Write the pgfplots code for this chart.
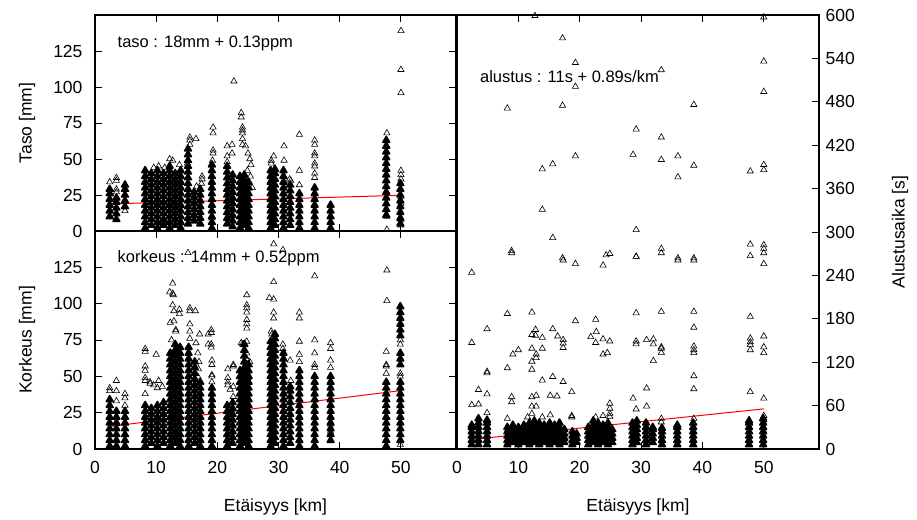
\documentclass[border=0pt]{standalone}
\usepackage{fontspec}
\setmainfont{Liberation Sans}
\usepackage{pgfplots}
\pgfplotsset{compat=1.18}

\newcommand{\fs}{\fontsize{17.5}{21}\selectfont}
\newcommand{\fa}{\fontsize{16.5}{20}\selectfont}

\pgfplotsset{
  myax/.style={
    scale only axis, xmin=0, xmax=59,
    axis line style={line width=2.4pt},
    tick style={line width=0.9pt, black},
    major tick length=7pt, tick align=inside,
    xtick={0,10,...,50},
    every tick label/.append style={font=\fs},
    label style={font=\fs},
    /pgf/number format/assume math mode=true,
    xticklabel style={yshift=-9pt},
  },
  dense/.style={only marks, mark=triangle*, mark size=3.9pt,
    mark options={fill=black, draw=black, line width=1.6pt, line join=round}},
  sparse/.style={only marks, mark=triangle, mark size=3.6pt,
    mark options={draw=black, line width=0.6pt}},
  fit/.style={red, line width=1pt, no marks},
}

\begin{document}
\begin{tikzpicture}
\useasboundingbox (0,0) rectangle (917pt,519pt);

% --- Taso ---
\begin{axis}[myax, at={(95pt,288pt)}, anchor=south west,
  width=361pt, height=216pt, ymin=0, ymax=150,
  ytick={0,25,...,125}, xticklabels={},
  yticklabel style={xshift=-9pt},
  ylabel={Taso [mm]},
  ylabel style={at={(axis description cs:-0.188,0.5)}, anchor=center}]
\addplot[dense] coordinates {
(2.4,10)(2.4,14)(2.4,18)(2.4,22)(2.4,26)(2.4,29)
(3.5,8)(3.5,12)(3.5,16)(3.5,20)(3.5,23)
(4.9,17)(4.9,21)(4.9,25)(4.9,29)(4.9,32)
(8.2,2)(8.2,6)(8.2,10)(8.2,14)(8.2,18)(8.2,22)(8.2,26)(8.2,30)(8.2,34)(8.2,38)(8.2,42)
(9.2,4)(9.2,8)(9.2,12)(9.2,16)(9.2,20)(9.2,24)(9.2,28)(9.2,32)(9.2,36)(9.2,40)
(10.2,2)(10.2,6)(10.2,10)(10.2,14)(10.2,18)(10.2,22)(10.2,26)(10.2,30)(10.2,34)(10.2,38)(10.2,42)
(11.2,4)(11.2,8)(11.2,12)(11.2,16)(11.2,20)(11.2,24)(11.2,28)(11.2,32)(11.2,36)(11.2,40)
(12.2,2)(12.2,6)(12.2,10)(12.2,14)(12.2,18)(12.2,22)(12.2,26)(12.2,30)(12.2,34)(12.2,38)(12.2,42)(12.2,45)
(13.1,4)(13.1,8)(13.1,12)(13.1,16)(13.1,20)(13.1,24)(13.1,28)(13.1,32)(13.1,36)(13.1,40)
(14.0,2)(14.0,6)(14.0,10)(14.0,14)(14.0,18)(14.0,22)(14.0,26)(14.0,30)(14.0,34)(14.0,38)(14.0,42)
(15.2,5)(15.2,9)(15.2,13)(15.2,17)(15.2,21)(15.2,25)(15.2,29)(15.2,33)(15.2,37)(15.2,41)(15.2,45)(15.2,49)(15.2,53)(15.2,57)
(16.2,7)(16.2,11)(16.2,15)(16.2,19)(16.2,23)(16.2,27)
(17.2,5)(17.2,9)(17.2,13)(17.2,17)(17.2,21)(17.2,25)(17.2,29)
(19.1,2)(19.1,6)(19.1,10)(19.1,14)(19.1,18)(19.1,22)(19.1,26)(19.1,30)(19.1,34)(19.1,38)(19.1,42)(19.1,46)
(21.6,5)(21.6,9)(21.6,13)(21.6,17)(21.6,21)(21.6,25)(21.6,29)(21.6,33)(21.6,37)(21.6,41)(21.6,45)
(22.5,3)(22.5,7)(22.5,11)(22.5,15)(22.5,19)(22.5,23)(22.5,27)(22.5,31)(22.5,35)(22.5,39)
(23.7,2)(23.7,6)(23.7,10)(23.7,14)(23.7,18)(23.7,22)(23.7,26)(23.7,30)(23.7,34)(23.7,38)
(24.4,4)(24.4,8)(24.4,12)(24.4,16)(24.4,20)(24.4,24)(24.4,28)(24.4,32)(24.4,36)(24.4,39)
(25.1,2)(25.1,6)(25.1,10)(25.1,14)(25.1,18)(25.1,22)(25.1,26)(25.1,30)(25.1,34)
(28.7,2)(28.7,6)(28.7,10)(28.7,14)(28.7,18)(28.7,22)(28.7,26)(28.7,30)(28.7,34)(28.7,38)(28.7,42)
(29.4,4)(29.4,8)(29.4,12)(29.4,16)(29.4,20)(29.4,24)(29.4,28)(29.4,32)(29.4,36)(29.4,40)(29.4,43)
(30.8,2)(30.8,6)(30.8,10)(30.8,14)(30.8,18)(30.8,22)(30.8,26)(30.8,30)(30.8,34)(30.8,38)(30.8,42)
(31.9,4)(31.9,8)(31.9,12)(31.9,16)(31.9,20)(31.9,24)(31.9,28)(31.9,32)
(33.4,2)(33.4,6)(33.4,10)(33.4,14)(33.4,18)(33.4,22)(33.4,26)
(35.9,2)(35.9,6)(35.9,10)(35.9,14)(35.9,18)(35.9,22)(35.9,26)(35.9,30)
(38.5,2)(38.5,6)(38.5,10)(38.5,14)(38.5,18)
(47.6,11)(47.6,15)(47.6,19)(47.6,23)(47.6,27)(47.6,31)(47.6,35)(47.6,39)(47.6,43)(47.6,47)(47.6,51)(47.6,55)(47.6,59)(47.6,63)
(49.9,5)(49.9,9)(49.9,13)(49.9,17)(49.9,21)(49.9,25)(49.9,29)(49.9,33)
};
\addplot[sparse] coordinates {
(2.4,34)(3.5,37)(3.5,35)(3.5,29)(3.5,27)(4.9,14)
(12.2,50)(11.4,44)(11.2,7)(11.1,5)(12.7,49)(13.8,46)(9.6,44)(10.4,45)
(15.5,65)(15.5,63)(16.5,64)(15.5,60)(15.1,47)
(17.5,38)(17.5,36)(17.4,33)(16.6,31)
(19.3,72)(19.3,68)(19.3,56)(19.3,54)(19.2,49)(19.1,9)
(21.6,59)(22.4,60)(22.4,54)(21.6,52)(21.6,48)(22.6,19)(22.7,104)
(23.9,82)(23.9,79)(24.1,72)(24.1,70)(24.1,68)(24.1,64)(24.1,60)(24.6,59)(25.0,54)(25.3,50)(25.5,46)(24.9,42)(25.4,38)(25.7,30)
(28.8,49)(29.2,52)(28.8,47)(30.9,59)(30.9,49)(31.8,36)(32.0,35)
(33.4,67)(33.4,42)(33.4,32)
(35.9,63)(35.9,60)(35.9,54)(35.9,52)(35.9,47)(35.9,45)(35.9,40)(35.9,37)
(47.7,68)(47.7,10)(47.7,1)
(50.0,139)(50.0,112)(50.0,96)(50.0,42)(50.0,39)(50.0,36)(50.0,24)(50.0,19)(50.0,8)(50.0,4)
};
\addplot[fit] coordinates {(2.4,18.8) (50,24.8)};
\node[anchor=west, font=\fa] at (axis description cs:0.053,0.87) {taso : 18mm + 0.13ppm};
\end{axis}

% --- Korkeus ---
\begin{axis}[myax, at={(95pt,70pt)}, anchor=south west,
  width=361pt, height=218pt, ymin=0, ymax=150,
  ytick={0,25,...,125},
  yticklabel style={xshift=-9pt},
  ylabel={Korkeus [mm]},
  ylabel style={at={(axis description cs:-0.188,0.5)}, anchor=center},
  xlabel={Etäisyys [km]},
  xlabel style={at={(axis description cs:0.5,0)}, anchor=center, yshift=-58pt}]
\addplot[dense] coordinates {
(2.4,2)(2.4,6)(2.4,10)(2.4,14)(2.4,18)(2.4,22)(2.4,26)(2.4,30)(2.4,34)
(3.5,2)(3.5,6)(3.5,10)(3.5,14)(3.5,18)(3.5,22)(3.5,26)
(4.9,2)(4.9,6)(4.9,10)(4.9,14)(4.9,18)(4.9,22)(4.9,26)
(8.2,2)(8.2,6)(8.2,10)(8.2,14)(8.2,18)(8.2,22)(8.2,26)(8.2,30)
(9.2,4)(9.2,8)(9.2,12)(9.2,16)(9.2,20)(9.2,24)(9.2,28)
(10.2,2)(10.2,6)(10.2,10)(10.2,14)(10.2,18)(10.2,22)(10.2,26)(10.2,30)
(11.2,4)(11.2,8)(11.2,12)(11.2,16)(11.2,20)(11.2,24)(11.2,28)(11.2,32)
(12.3,2)(12.3,6)(12.3,10)(12.3,14)(12.3,18)(12.3,22)(12.3,26)(12.3,30)(12.3,34)(12.3,38)(12.3,42)(12.3,46)(12.3,50)(12.3,54)(12.3,58)(12.3,62)(12.3,66)
(13.1,4)(13.1,8)(13.1,12)(13.1,16)(13.1,20)(13.1,24)(13.1,28)(13.1,32)(13.1,36)(13.1,40)(13.1,44)(13.1,48)(13.1,52)(13.1,56)(13.1,60)(13.1,64)(13.1,68)(13.1,72)
(13.9,2)(13.9,6)(13.9,10)(13.9,14)(13.9,18)(13.9,22)(13.9,26)(13.9,30)(13.9,34)(13.9,38)(13.9,42)(13.9,46)(13.9,50)(13.9,54)(13.9,58)(13.9,62)(13.9,66)(13.9,70)
(15.3,2)(15.3,6)(15.3,10)(15.3,14)(15.3,18)(15.3,22)(15.3,26)(15.3,30)(15.3,34)(15.3,38)(15.3,42)(15.3,46)(15.3,50)(15.3,54)(15.3,58)(15.3,62)(15.3,66)(15.3,70)
(16.3,4)(16.3,8)(16.3,12)(16.3,16)(16.3,20)(16.3,24)(16.3,28)(16.3,32)(16.3,36)(16.3,40)(16.3,44)(16.3,48)(16.3,52)(16.3,56)(16.3,60)
(17.2,2)(17.2,6)(17.2,10)(17.2,14)(17.2,18)(17.2,22)(17.2,26)(17.2,30)(17.2,34)(17.2,38)(17.2,42)(17.2,46)
(19.1,2)(19.1,6)(19.1,10)(19.1,14)(19.1,18)(19.1,22)(19.1,26)(19.1,30)(19.1,34)(19.1,38)(19.1,42)
(21.6,2)(21.6,6)(21.6,10)(21.6,14)(21.6,18)(21.6,22)(21.6,26)(21.6,30)
(22.5,4)(22.5,8)(22.5,12)(22.5,16)(22.5,20)(22.5,24)(22.5,28)(22.5,32)
(23.7,2)(23.7,6)(23.7,10)(23.7,14)(23.7,18)(23.7,22)(23.7,26)(23.7,30)(23.7,34)(23.7,38)(23.7,42)(23.7,46)(23.7,50)(23.7,54)
(24.4,4)(24.4,8)(24.4,12)(24.4,16)(24.4,20)(24.4,24)(24.4,28)(24.4,32)(24.4,36)(24.4,40)(24.4,44)(24.4,48)(24.4,52)(24.4,56)(24.4,60)(24.4,64)(24.4,68)(24.4,72)
(25.1,2)(25.1,6)(25.1,10)(25.1,14)(25.1,18)(25.1,22)(25.1,26)(25.1,30)(25.1,34)(25.1,38)(25.1,42)(25.1,46)(25.1,50)(25.1,54)(25.1,58)
(28.7,2)(28.7,6)(28.7,10)(28.7,14)(28.7,18)(28.7,22)(28.7,26)(28.7,30)(28.7,34)(28.7,38)(28.7,42)(28.7,46)(28.7,50)(28.7,54)(28.7,58)(28.7,62)(28.7,66)(28.7,70)(28.7,74)
(29.4,4)(29.4,8)(29.4,12)(29.4,16)(29.4,20)(29.4,24)(29.4,28)(29.4,32)(29.4,36)(29.4,40)(29.4,44)(29.4,48)(29.4,52)(29.4,56)(29.4,60)(29.4,64)(29.4,68)(29.4,72)(29.4,76)(29.4,79)
(30.8,2)(30.8,6)(30.8,10)(30.8,14)(30.8,18)(30.8,22)(30.8,26)(30.8,30)(30.8,34)(30.8,38)(30.8,42)(30.8,46)(30.8,50)(30.8,54)(30.8,58)(30.8,62)(30.8,66)
(31.9,4)(31.9,8)(31.9,12)(31.9,16)(31.9,20)(31.9,24)(31.9,28)(31.9,32)(31.9,36)(31.9,40)(31.9,43)
(33.4,2)(33.4,6)(33.4,10)(33.4,14)(33.4,18)(33.4,22)(33.4,26)(33.4,30)(33.4,34)(33.4,38)(33.4,42)(33.4,46)(33.4,50)(33.4,54)
(35.9,2)(35.9,6)(35.9,10)(35.9,14)(35.9,18)(35.9,22)(35.9,26)(35.9,30)(35.9,34)(35.9,38)(35.9,42)(35.9,46)(35.9,50)
(38.5,6)(38.5,10)(38.5,14)(38.5,18)(38.5,22)(38.5,26)(38.5,30)(38.5,34)(38.5,38)(38.5,42)(38.5,46)(38.5,50)
(47.6,2)(47.6,6)(47.6,10)(47.6,14)(47.6,18)(47.6,22)(47.6,26)(47.6,30)(47.6,34)(47.6,38)(47.6,42)(47.6,46)
(49.9,6)(49.9,10)(49.9,14)(49.9,18)(49.9,22)(49.9,26)(49.9,30)(49.9,34)(49.9,38)(49.9,42)(49.9,46)
(49.9,58)(49.9,62)(49.9,66)(49.9,78)(49.9,82)(49.9,86)(49.9,90)(49.9,94)(49.9,98)
};
\addplot[sparse] coordinates {
(2.4,40)(2.4,42)(3.5,47)(3.5,40)(3.5,33)(4.9,38)(4.9,35)(4.9,30)
(8.2,69)(8.2,67)(8.2,57)(8.2,54)(8.2,49)(8.2,47)(8.2,38)(9.0,46)(9.0,45)(9.6,44)(10.0,65)(10.4,47)(10.2,42)(11.0,43)
(12.2,108)(12.7,114)(12.7,107)(12.8,106)(12.7,99)(12.9,95)(12.9,88)(12.3,87)(13.8,96)(13.8,93)(13.2,82)(13.2,81)(12.5,75)
(15.2,135)(15.5,97)(15.5,95)(15.5,86)(15.5,81)(15.5,76)(16.4,95)(17.1,79)(16.5,73)(16.8,66)(17.0,60)(16.9,55)(16.8,50)
(19.0,82)(19.0,80)(18.5,79)(18.5,72)(19.0,72)(19.0,70)(19.1,61)(19.1,58)(19.1,51)(19.1,50)(19.1,46)
(21.7,55)(21.7,49)(21.7,46)(21.7,44)(22.6,43)(22.6,58)(22.6,57)(22.1,41)(22.6,36)
(24.8,106)(24.8,99)(24.8,97)(24.8,94)(24.8,89)(24.8,86)(24.8,83)(24.8,74)(24.8,66)(24.8,62)(24.8,53)(25.0,49)(23.9,73)(24.1,72)(25.3,60)
(28.5,104)(29.2,141)(29.2,115)(29.2,103)(29.2,94)(29.2,90)(28.8,81)(28.9,79)
(30.7,137)(30.7,72)(30.7,69)(31.9,61)(32.0,47)
(33.4,94)(33.4,90)(33.4,74)(33.4,65)(33.4,60)
(35.9,119)(35.9,75)(35.9,66)(35.9,58)(35.9,56)
(38.5,73)(38.5,69)(38.5,61)(38.5,56)(38.5,17)(38.5,12)
(47.7,123)(47.7,102)(47.6,67)(47.6,58)(47.6,57)(47.6,52)
(49.9,72)(49.9,75)(49.9,52)(49.9,50)(49.9,3)
};
\addplot[fit] coordinates {(2.4,15.5) (50,40.2)};
\node[anchor=west, font=\fa] at (axis description cs:0.053,0.876) {korkeus : 14mm + 0.52ppm};
\end{axis}

% --- Alustusaika ---
\begin{axis}[myax, at={(457pt,70pt)}, anchor=south west,
  width=362pt, height=434pt, ymin=0, ymax=600,
  ytick={0,60,...,600}, ytick pos=right, yticklabel pos=right,
  yticklabel style={xshift=3pt},
  ylabel={Alustusaika [s]},
  ylabel style={at={(axis description cs:1.224,0.5)}, anchor=center, rotate=0},
  xlabel={Etäisyys [km]},
  xlabel style={at={(axis description cs:0.5,0)}, anchor=center, yshift=-58pt}]
\addplot[dense] coordinates {
(2.4,6)(2.4,12)(2.4,18)(2.4,24)(2.4,30)(2.4,33)
(3.5,6)(3.5,12)(3.5,18)(3.5,24)(3.5,30)(3.5,36)(3.5,42)
(4.9,6)(4.9,12)(4.9,18)(4.9,24)(4.9,30)(4.9,36)(4.9,40)
(8.2,6)(8.2,12)(8.2,18)(8.2,24)(8.2,30)
(9.1,9)(9.1,15)(9.1,21)(9.1,27)(9.1,33)
(10.0,6)(10.0,12)(10.0,18)(10.0,24)(10.0,30)
(10.9,9)(10.9,15)(10.9,21)(10.9,27)(10.9,33)
(11.8,6)(11.8,12)(11.8,18)(11.8,24)(11.8,30)(11.8,36)
(12.6,9)(12.6,15)(12.6,21)(12.6,27)(12.6,33)(12.6,39)
(13.4,6)(13.4,12)(13.4,18)(13.4,24)(13.4,30)(13.4,36)
(14.2,9)(14.2,15)(14.2,21)(14.2,27)(14.2,33)
(15.1,6)(15.1,12)(15.1,18)(15.1,24)(15.1,30)(15.1,36)
(15.9,9)(15.9,15)(15.9,21)(15.9,27)(15.9,33)
(16.7,6)(16.7,12)(16.7,18)(16.7,24)(16.7,30)(16.7,36)
(17.5,9)(17.5,15)(17.5,21)(17.5,27)
(18.8,6)(18.8,12)(18.8,18)(18.8,24)
(19.5,9)(19.5,15)(19.5,21)
(21.4,6)(21.4,12)(21.4,18)(21.4,24)(21.4,30)
(22.2,9)(22.2,15)(22.2,21)(22.2,27)(22.2,33)(22.2,39)
(23.0,6)(23.0,12)(23.0,18)(23.0,24)(23.0,30)(23.0,36)
(23.8,9)(23.8,15)(23.8,21)(23.8,27)(23.8,33)
(24.6,6)(24.6,12)(24.6,18)(24.6,24)(24.6,30)(24.6,36)
(25.3,9)(25.3,15)(25.3,21)(25.3,27)
(28.6,6)(28.6,12)(28.6,18)(28.6,24)(28.6,30)(28.6,36)
(29.3,9)(29.3,15)(29.3,21)(29.3,27)(29.3,33)(29.3,39)
(30.8,6)(30.8,12)(30.8,18)(30.8,24)(30.8,30)(30.8,36)
(31.9,9)(31.9,15)(31.9,21)(31.9,27)(31.9,30)
(33.4,6)(33.4,12)(33.4,18)(33.4,24)(33.4,29)
(35.9,6)(35.9,12)(35.9,18)(35.9,24)(35.9,30)(35.9,33)
(38.5,6)(38.5,12)(38.5,18)(38.5,24)(38.5,30)(38.5,36)
(47.6,6)(47.6,12)(47.6,18)(47.6,24)(47.6,30)(47.6,36)(47.6,39)
(49.9,6)(49.9,12)(49.9,18)(49.9,24)(49.9,30)(49.9,36)(49.9,42)
};
\addplot[sparse] coordinates {
(17.2,568)(19.3,534)(19.3,501)(33.3,524)(50,536)(50,494)(8.2,471)(17.2,475)(38.6,476)
(29.2,442)(33.3,431)(28.7,407)(33.3,400)(36.0,405)(19.3,405)(38.6,392)(36.0,376)
(13.9,387)(15.6,394)(47.8,384)(50,393)(50,386)(13.9,331)(15.6,292)(29.2,303)
(8.9,274)(47.8,283)(50,282)(50,277)(47.8,267)(33.3,277)(24.3,268)(29.2,266)(36.0,264)(38.6,264)(17.2,264)
(2.4,244)(8.9,271)(17.3,261)(19.3,256)(23.8,254)(24.9,270)(29.2,266)(33.3,271)(36.0,261)(38.6,261)(50,271)(50,256)
(12.7,599)(50,597)
(2.4,147)(8.2,187)(12.2,189)(4.9,166)(12.8,165)(12.8,157)(12.2,158)(13.9,154)(15.6,166)(16.4,156)
(17.3,151)(17.3,146)(17.3,140)(19.3,177)(22.6,179)(22.7,162)(21.8,155)(22.6,147)(23.8,152)(24.9,149)(23.8,131)(24.5,133)
(29.2,188)(29.2,149)(29.2,145)(30.9,151)(32.0,152)(32.0,145)(33.3,139)(33.3,133)(32.0,122)(33.3,190)(33.3,141)
(38.6,190)(38.6,168)(38.6,142)(38.6,137)(38.6,133)(38.6,101)(38.6,83)
(47.8,183)(47.8,153)(47.8,148)(47.8,144)(47.8,137)(50,156)(50,141)(50,133)(47.8,79)(50,70)(50,46)(50,40)
(4.9,105)(4.9,107)(3.5,82)(4.9,76)(2.4,61)(3.5,62)(4.9,50)(8.2,112)(9.1,131)(10.0,137)(8.9,72)(8.9,65)
(12.2,139)(12.2,121)(12.2,110)(12.9,131)(12.9,126)(13.9,139)(13.9,95)(15.6,100)(17.3,93)(18.7,79)
(12.2,72)(12.9,74)(12.2,59)(12.9,59)(15.2,74)(16.3,73)(15.2,47)(12.2,49)(11.5,44)(8.2,42)(13.9,44)(18.7,46)(18.7,44)
(24.9,63)(24.9,56)(24.9,49)(24.9,45)(23.8,46)(22.6,44)(28.7,70)(29.2,55)(30.9,84)(30.9,59)(33.3,42)(33.3,37)(38.6,42)
};
\addplot[fit] coordinates {(2.4,13.2) (50,55.5)};
\node[anchor=west, font=\fa] at (axis description cs:0.054,0.859) {alustus : 11s + 0.89s/km};
\end{axis}
\end{tikzpicture}
\end{document}
